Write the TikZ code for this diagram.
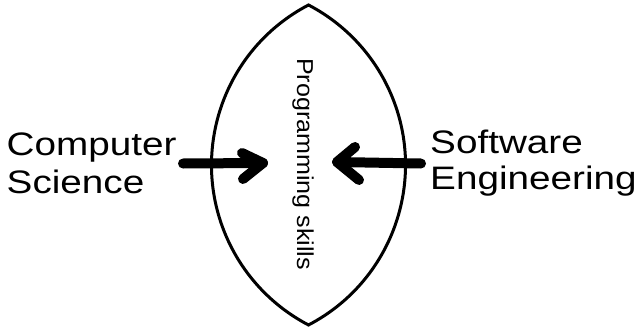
\documentclass[tikz,border=0pt]{standalone}
\usepackage{fontspec}
\setmainfont{Liberation Sans}
\begin{document}
\begin{tikzpicture}[x=1pt,y=-1pt,
  label text/.style={align=left, inner sep=0pt, xscale=1.19, anchor=base west},
  lens line/.style={line width=3pt, line join=miter},
  fat arrow/.style={line width=10pt, line cap=round, line join=round}]
  \useasboundingbox (0,0) rectangle (639,329);

  % the lens made of two circular arcs
  \coordinate (top) at (308.5,5);
  \draw[lens line] (top) arc[start angle=242.45, end angle=117.55, radius=180.46]
                         arc[start angle=62.45, end angle=-62.45, radius=180.46] -- cycle;

  % labels (base anchor sits on the last line's baseline)
  \node[label text, font=\fontsize{32.5}{38}\selectfont] (cs) at (6.5,193) {Computer\\Science};
  \node[label text, font=\fontsize{32.5}{36}\selectfont] (se) at (430,189) {Software\\Engineering};
  \node[font=\fontsize{23}{23}\selectfont, inner sep=0pt, rotate=-90, xscale=1.09, anchor=base] (ps) at (297,164) {Programming skills};

  % hand-drawn arrows pointing into the lens
  \coordinate (csTail) at (183,163.5);
  \coordinate (csTip) at (263,163);
  \coordinate (csUp) at (242,153);
  \coordinate (csDown) at (243,179);
  \draw[fat arrow] (csTail) -- (csTip);
  \draw[fat arrow] (csUp) -- (csTip) -- (csDown);

  \coordinate (seTail) at (421,163.5);
  \coordinate (seTip) at (337,162);
  \coordinate (seUp) at (355,147);
  \coordinate (seDown) at (359,180);
  \draw[fat arrow] (seTail) -- (seTip);
  \draw[fat arrow] (seUp) -- (seTip) -- (seDown);
\end{tikzpicture}
\end{document}
